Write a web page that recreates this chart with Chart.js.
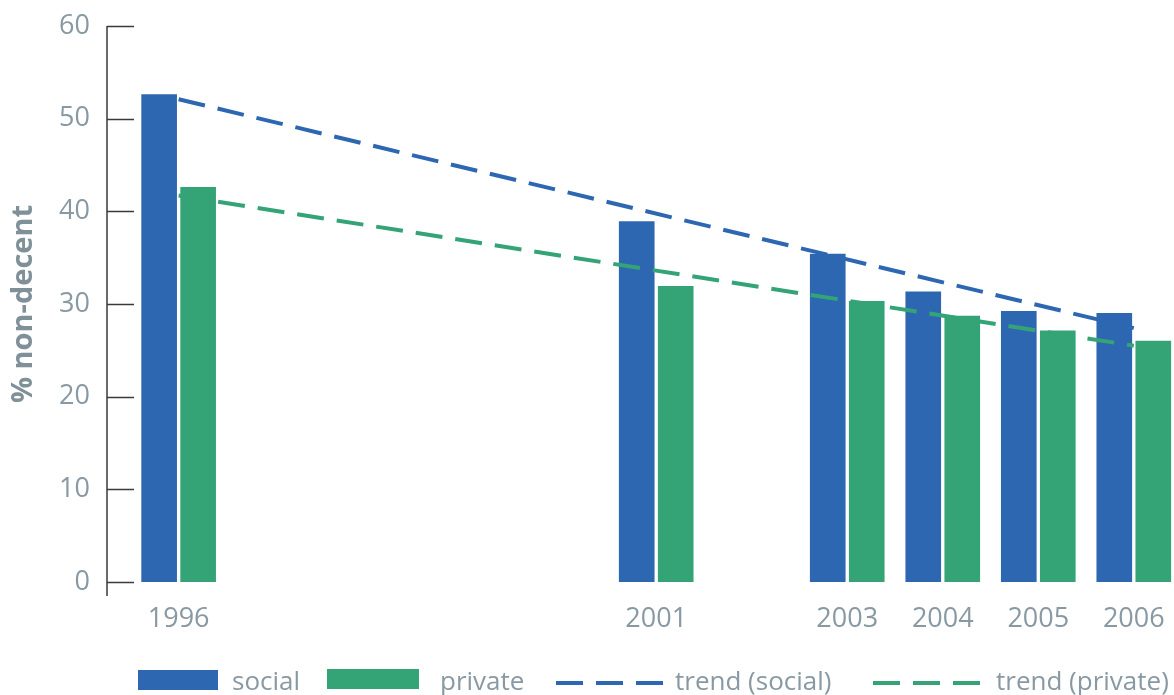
<!DOCTYPE html>
<html>
<head>
<meta charset="utf-8">
<script src="https://cdn.jsdelivr.net/npm/chart.js@4/dist/chart.umd.min.js"></script>
<style>
    html, body { margin: 0; padding: 0; background: #fff; }
    #wrap { position: relative; width: 1174px; height: 695px; overflow: hidden; }
    #grafico { position: absolute; left: 0; top: 0; }
    .legenda-texto {
        position: absolute; top: 664px; font-family: 'Open Sans', sans-serif;
        font-size: 26px; line-height: 32px; color: #8899a3; white-space: nowrap;
    }
    .legenda-caixa { position: absolute; height: 20px; }
    .legenda-traco { position: absolute; top: 681px; height: 4px; width: 107px; }
</style>
</head>
<body>
<div id="wrap">
    <canvas id="grafico" width="1174" height="695"></canvas>

    <div class="legenda-caixa" style="left:138px; top:670px; width:80px; background:#2e67b1;"></div>
    <div class="legenda-texto" style="left:232px;">social</div>
    <div class="legenda-caixa" style="left:327px; top:669px; width:92px; background:#34a477;"></div>
    <div class="legenda-texto" style="left:440px;">private</div>
    <div class="legenda-traco" style="left:556px; background:repeating-linear-gradient(to right, #2e67b1 0 27px, transparent 27px 40px);"></div>
    <div class="legenda-texto" style="left:675px;">trend (social)</div>
    <div class="legenda-traco" style="left:873px; background:repeating-linear-gradient(to right, #34a477 0 27px, transparent 27px 40px);"></div>
    <div class="legenda-texto" style="left:996px;">trend (private)</div>
</div>

<script>
    // Anos e percentuais de moradias "non-decent"
    const anos = [1996, 2001, 2003, 2004, 2005, 2006];
    const social = [52.6, 38.9, 35.4, 31.3, 29.2, 29.0];
    const privado = [42.6, 31.9, 30.3, 28.7, 27.1, 26.0];

    // Extremos das linhas de tendência (1996 e 2006)
    const anosTendencia = [1996, 2006];
    const tendenciaSocial = [52.1, 27.4];
    const tendenciaPrivado = [41.7, 25.5];

    const ticksY = [0, 10, 20, 30, 40, 50, 60];

    const azul = '#2e67b1';
    const verde = '#34a477';
    const cinza = '#8899a3';

    const pontos = (xs, ys) => xs.map((x, i) => ({ x: x, y: ys[i] }));

    // Eixo Y desenhado à mão: linha vertical e marcas para dentro
    const eixoY = {
        id: 'eixoY',
        afterDatasetsDraw(chart) {
            const { ctx, chartArea, scales } = chart;
            const y = scales.y;
            ctx.save();
            ctx.strokeStyle = '#3a3a3a';
            ctx.lineWidth = 1.5;
            ctx.beginPath();
            ctx.moveTo(chartArea.left, y.getPixelForValue(60));
            ctx.lineTo(chartArea.left, chartArea.bottom + 14);
            y.ticks.forEach(t => {
                const py = Math.round(y.getPixelForValue(t.value)) + 0.5;
                ctx.moveTo(chartArea.left, py);
                ctx.lineTo(chartArea.left + 27, py);
            });
            ctx.stroke();
            ctx.restore();
        }
    };

    new Chart(document.getElementById('grafico'), {
        type: 'bar',
        data: {
            datasets: [
                {
                    type: 'line',
                    label: 'trend (social)',
                    data: pontos(anosTendencia, tendenciaSocial),
                    borderColor: azul,
                    borderWidth: 4,
                    borderDash: [27, 13],
                    pointRadius: 0,
                    fill: false
                },
                {
                    type: 'line',
                    label: 'trend (private)',
                    data: pontos(anosTendencia, tendenciaPrivado),
                    borderColor: verde,
                    borderWidth: 4,
                    borderDash: [27, 13],
                    pointRadius: 0,
                    fill: false
                },
                {
                    label: 'social',
                    data: pontos(anos, social),
                    backgroundColor: azul,
                    barThickness: 39,
                    maxBarThickness: 35
                },
                {
                    label: 'private',
                    data: pontos(anos, privado),
                    backgroundColor: verde,
                    barThickness: 39,
                    maxBarThickness: 35
                }
            ]
        },
        options: {
            responsive: false,
            animation: false,
            layout: { padding: { top: 26, right: 2, left: 0, bottom: 0 } },
            plugins: {
                legend: { display: false },
                tooltip: { enabled: false }
            },
            scales: {
                x: {
                    type: 'linear',
                    min: 1995.25,
                    max: 2006.4,
                    offset: false,
                    grid: { display: false, drawTicks: false, tickLength: 0 },
                    border: { display: false },
                    afterBuildTicks: s => { s.ticks = anos.map(v => ({ value: v })); },
                    afterFit: s => {
                        s.height = 113;
                        s.paddingLeft = 0;
                        s.paddingRight = 0;
                    },
                    ticks: {
                        autoSkip: false,
                        maxRotation: 0,
                        padding: 21,
                        color: cinza,
                        font: { family: 'Open Sans', size: 27 },
                        callback: v => String(v)
                    }
                },
                y: {
                    min: 0,
                    max: 60,
                    grid: { display: false, drawTicks: false, tickLength: 0 },
                    border: { display: false },
                    afterBuildTicks: s => { s.ticks = ticksY.map(v => ({ value: v })); },
                    afterFit: s => {
                        s.width = 107;
                        s.paddingTop = 0;
                        s.paddingBottom = 0;
                    },
                    ticks: {
                        padding: 17,
                        color: cinza,
                        font: { family: 'Open Sans', size: 27 }
                    },
                    title: {
                        display: true,
                        text: '% non-decent',
                        color: '#7f9099',
                        padding: { top: 6, bottom: 0 },
                        font: { family: 'Open Sans', size: 29, weight: 'bold' }
                    }
                }
            }
        },
        plugins: [eixoY]
    });
</script>
</body>
</html>
